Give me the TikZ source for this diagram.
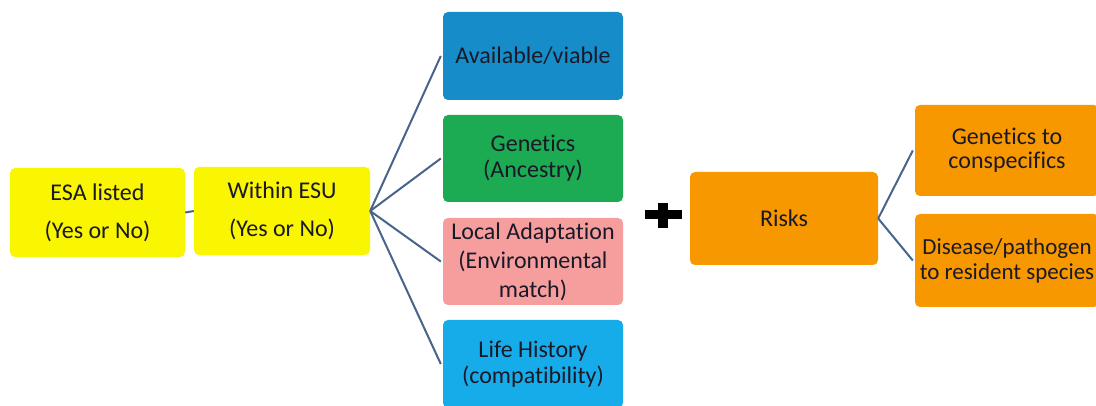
\documentclass[tikz,border=0pt]{standalone}
\usepackage{fontspec}
\setmainfont{Carlito}[Ligatures=NoCommon]

\definecolor{esayellow}{RGB}{250,245,0}
\definecolor{availblue}{RGB}{22,140,200}
\definecolor{genegreen}{RGB}{28,170,82}
\definecolor{adaptpink}{RGB}{246,158,158}
\definecolor{lifeblue}{RGB}{22,172,234}
\definecolor{riskorange}{RGB}{247,152,0}
\definecolor{linkblue}{RGB}{72,100,140}
\definecolor{textdark}{RGB}{25,25,40}

\begin{document}
\begin{tikzpicture}[x=1pt, y=-1pt,
  box/.style={rounded corners=5pt, align=center, text=textdark, inner sep=0pt,
    font=\fontsize{24}{26}\selectfont},
  link/.style={draw=linkblue, line width=2pt}]

\clip (0,0) rectangle (1096,406);
\useasboundingbox (0,0) rectangle (1096,406);

% Listing status
\node[box, fill=esayellow, minimum width=175pt, minimum height=89pt,
  font=\fontsize{24}{38}\selectfont] (esa) at (97.5,212.5) {ESA listed\\(Yes or No)};
\node[box, fill=esayellow, minimum width=176pt, minimum height=88pt,
  font=\fontsize{24}{38}\selectfont] (esu) at (282,211) {Within ESU\\(Yes or No)};

% Criteria
\node[box, fill=availblue, minimum width=180pt, minimum height=88pt] (avail) at (533,56) {Available/viable};
\node[box, fill=genegreen, minimum width=180pt, minimum height=87pt] (gene) at (533,158.5) {Genetics\\(Ancestry)};
\node[box, fill=adaptpink, minimum width=180pt, minimum height=87pt,
  font=\fontsize{24}{29}\selectfont] (adapt) at (533,261.5) {Local Adaptation\\(Environmental\\match)};
\node[box, fill=lifeblue, minimum width=180pt, minimum height=88pt] (life) at (533,364) {Life History\\(compatibility)};

% Plus sign
\fill[black] (645,210) rectangle (682,219);
\fill[black] (658,203) rectangle (668,228);

% Risks
\node[box, fill=riskorange, minimum width=188pt, minimum height=93pt] (risks) at (784,218.5) {Risks};
\node[box, fill=riskorange, minimum width=184pt, minimum height=91pt,
  font=\fontsize{24}{24}\selectfont] (consp) at (1007,150.5) {Genetics to\\conspecifics};
\node[box, fill=riskorange, minimum width=184pt, minimum height=93pt,
  font=\fontsize{23}{25}\selectfont] (disease) at (1007,260.5) {Disease/pathogen\\to resident species};

% Connectors
\draw[link] (esa.east) -- (esu.west);
\foreach \n in {avail,gene,adapt,life}
  \draw[link] (esu.east) -- ([xshift=-2pt]\n.west);
\foreach \n in {consp,disease}
  \draw[link] (risks.east) -- ([xshift=-2pt]\n.west);

\end{tikzpicture}
\end{document}
